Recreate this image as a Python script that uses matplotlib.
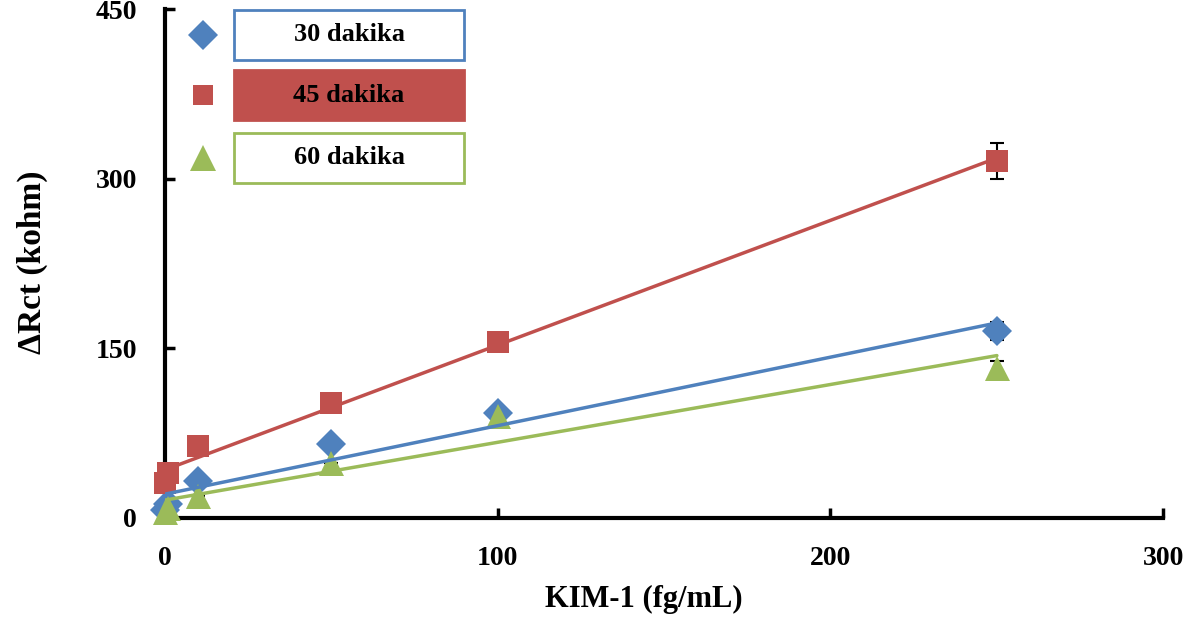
import numpy as np
import matplotlib.pyplot as plt
from matplotlib.patches import Rectangle

# KIM-1 concentrations (fg/mL)
conc = [0, 1, 10, 50, 100, 250]

# Delta Rct (kohm) for each incubation time
rct_30 = [7, 12, 33, 65, 93, 165]
rct_45 = [31, 40, 64, 101.5, 156, 316]
rct_60 = [5, 9, 19, 48.5, 90, 133]

# error bars (only the last point has visible ones)
err_30 = [0, 0, 0, 0, 0, 8]
err_45 = [0, 0, 0, 0, 0, 16]
err_60 = [0, 0, 0, 0, 0, 6]

labels = ['30 dakika', '45 dakika', '60 dakika']

BLUE = '#4F81BD'
RED = '#C0504D'
GREEN = '#9BBB59'

plt.rcParams['font.family'] = ['Liberation Serif', 'DejaVu Serif']
plt.rcParams['font.weight'] = 'bold'

fig = plt.figure(figsize=(12.03, 6.18), dpi=100)
ax = fig.add_axes([0.137, 0.162, 0.830, 0.823])

series = [
    (rct_30, err_30, BLUE, 'D', 15),
    (rct_45, err_45, RED, 's', 16),
    (rct_60, err_60, GREEN, '^', 18),
]

x = np.array(conc, dtype=float)
for y, err, col, mk, ms in series:
    # error bars behind the markers
    ax.errorbar(x, y, yerr=err, fmt='none', ecolor='black', elinewidth=1.5,
                capsize=5, capthick=1.5, zorder=2, clip_on=False)
    ax.plot(x, y, linestyle='none', marker=mk, color=col, markersize=ms,
            markeredgewidth=0, zorder=3, clip_on=False)
    # linear trendline
    k, b = np.polyfit(x, y, 1)
    xf = np.array([0, 250])
    ax.plot(xf, k * xf + b, color=col, linewidth=2.5, zorder=4,
            solid_capstyle='round')

ax.set_xlim(0, 300)
ax.set_ylim(0, 450)
ax.set_xticks([0, 100, 200, 300])
ax.set_yticks([0, 150, 300, 450])

for s in ['top', 'right']:
    ax.spines[s].set_visible(False)
for s in ['left', 'bottom']:
    ax.spines[s].set_linewidth(3)
ax.spines['bottom'].set_zorder(2.5)

ax.tick_params(direction='in', length=7, width=2.5, labelsize=20, pad=20)

ax.set_xlabel('KIM-1 (fg/mL)', fontsize=22, fontweight='bold', va='center')
ax.set_ylabel('ΔRct (kohm)', fontsize=24, fontweight='bold', va='center')
ax.xaxis.set_label_coords(0.48, -0.161)
ax.yaxis.set_label_coords(-0.133, 0.503)

# legend drawn as boxes like the original
box_x, box_w, box_h = 0.069, 0.231, 0.098
rows_y = [0.901, 0.782, 0.659]
face = ['white', RED, 'white']
edge = [BLUE, RED, GREEN]
marks = [('D', BLUE, 15), ('s', RED, 15), ('^', GREEN, 19)]
for i, lab in enumerate(labels):
    ax.add_patch(Rectangle((box_x, rows_y[i]), box_w, box_h,
                           transform=ax.transAxes, facecolor=face[i],
                           edgecolor=edge[i], linewidth=2, zorder=5,
                           clip_on=False))
    ax.text(box_x + box_w / 2, rows_y[i] + box_h / 2, lab,
            transform=ax.transAxes, ha='center', va='center',
            fontsize=19, fontweight='bold', zorder=6)
    m, c, ms = marks[i]
    ax.plot(0.038, rows_y[i] + box_h / 2, marker=m, color=c,
            markersize=ms, markeredgewidth=0, transform=ax.transAxes,
            zorder=6, clip_on=False)

fig.savefig('out.png', dpi=100)
plt.close()
